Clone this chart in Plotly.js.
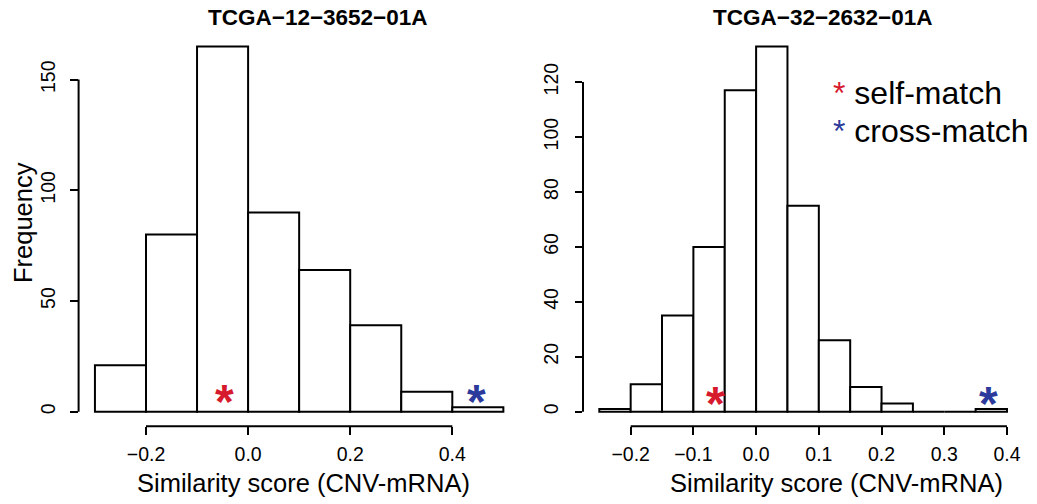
<!DOCTYPE html>
<html>
<head>
<meta charset="utf-8">
<script src="https://cdn.plot.ly/plotly-3.0.1.min.js"></script>
<style>
  html, body { margin: 0; padding: 0; background: #ffffff; }
  #chart { width: 1037px; height: 504px; }
</style>
</head>
<body>
<div id="chart"></div>
<script>
// ---------- data ----------
const leftTitle = "TCGA\u221212\u22123652\u221201A";
const rightTitle = "TCGA\u221232\u22122632\u221201A";
const xTitle = "Similarity score (CNV-mRNA)";
const yTitle = "Frequency";

const leftEdges  = [-0.3, -0.2, -0.1, 0.0, 0.1, 0.2, 0.3, 0.4, 0.5];
const leftCounts = [21, 80, 165, 90, 64, 39, 9, 2];

const rightEdges  = [-0.25, -0.2, -0.15, -0.1, -0.05, 0.0, 0.05, 0.1, 0.15, 0.2, 0.25, 0.3, 0.35, 0.4];
const rightCounts = [1, 10, 35, 60, 117, 133, 75, 26, 9, 3, 0, 0, 1];

const leftXTicks  = [-0.2, 0.0, 0.2, 0.4];
const leftYTicks  = [0, 50, 100, 150];
const rightXTicks = [-0.2, -0.1, 0.0, 0.1, 0.2, 0.3, 0.4];
const rightYTicks = [0, 20, 40, 60, 80, 100, 120];

const leftSelf   = {x: -0.046, y: 9};
const leftCross  = {x: 0.447,  y: 9};
const rightSelf  = {x: -0.064, y: 6.5};
const rightCross = {x: 0.370,  y: 6.5};

const legendLabels = ["self-match", "cross-match"];

// ---------- styles ----------
const FONT = "Liberation Sans, Arial, Helvetica, sans-serif";
const RED = "#D7192E";
const BLUE = "#2B3A9B";

function centers(edges) { return edges.slice(0, -1).map((e, i) => (e + edges[i + 1]) / 2); }
function widths(edges) { return edges.slice(0, -1).map((e, i) => edges[i + 1] - e); }

function histTrace(edges, counts, xa, ya) {
  return {
    type: "bar",
    x: centers(edges), y: counts, width: widths(edges),
    xaxis: xa, yaxis: ya,
    marker: {color: "#ffffff", line: {color: "#000000", width: 2}},
    hoverinfo: "skip", showlegend: false
  };
}

const data = [
  histTrace(leftEdges, leftCounts, "x", "y"),
  histTrace(rightEdges, rightCounts, "x2", "y2")
];

const yDom = [77.7 / 504, 472.2 / 504];
function axisCommon() {
  return {
    showgrid: false, zeroline: false, showline: false,
    ticks: "outside", ticklen: 7.5, tickwidth: 2, tickcolor: "#000",
    tickfont: {family: FONT, size: 19.5, color: "#000"},
    fixedrange: true
  };
}

const layout = {
  width: 1037, height: 504,
  margin: {l: 0, r: 0, t: 0, b: 0},
  paper_bgcolor: "#ffffff", plot_bgcolor: "#ffffff",
  bargap: 0, showlegend: false,
  xaxis: Object.assign(axisCommon(), {
    domain: [78.6 / 1037, 519.7 / 1037], range: [-0.332, 0.532],
    tickvals: leftXTicks, tickformat: ".1f", anchor: "y", ticklabelstandoff: 3
  }),
  yaxis: Object.assign(axisCommon(), {
    domain: yDom, range: [-6.6, 171.6], tickvals: leftYTicks, tickangle: -90, anchor: "x",
    ticklabelstandoff: 7
  }),
  xaxis2: Object.assign(axisCommon(), {
    domain: [583.0 / 1037, 1023.3 / 1037], range: [-0.276, 0.426],
    tickvals: rightXTicks, tickformat: ".1f", anchor: "y2", ticklabelstandoff: 3
  }),
  yaxis2: Object.assign(axisCommon(), {
    domain: yDom, range: [-5.32, 138.32], tickvals: rightYTicks, tickangle: -90, anchor: "x2",
    ticklabelstandoff: 9
  }),
  shapes: [],
  annotations: []
};

// R-style axis lines spanning only the tick range
function axisLines(xa, ya, xt, yt, xDomLeft) {
  layout.shapes.push({type: "line", xref: xa, yref: "paper",
    x0: xt[0], x1: xt[xt.length - 1], y0: yDom[0], y1: yDom[0],
    line: {color: "#000", width: 2}});
  layout.shapes.push({type: "line", xref: "paper", yref: ya,
    x0: xDomLeft, x1: xDomLeft, y0: yt[0], y1: yt[yt.length - 1],
    line: {color: "#000", width: 2}});
}
axisLines("x", "y", leftXTicks, leftYTicks, layout.xaxis.domain[0]);
axisLines("x2", "y2", rightXTicks, rightYTicks, layout.xaxis2.domain[0]);

// titles
function paperText(text, px, py, size, bold, angle) {
  layout.annotations.push({
    xref: "paper", yref: "paper", x: px / 1037, y: 1 - py / 504,
    xanchor: "center", yanchor: "middle", showarrow: false,
    text: bold ? "<b>" + text + "</b>" : text, textangle: angle || 0,
    font: {family: FONT, size: size, color: "#000"}
  });
}
paperText(leftTitle, 318, 17.7, 22.5, true);
paperText(rightTitle, 822.5, 17.7, 22.5, true);
paperText(xTitle, 303, 483, 25.5, false);
paperText(xTitle, 836, 483, 25.5, false);
paperText(yTitle, 23, 223, 25.5, false, -90);

// asterisk markers placed via the data axes
function star(pt, xa, ya, color) {
  layout.annotations.push({
    xref: xa, yref: ya, x: pt.x, y: pt.y, xanchor: "center", yanchor: "middle",
    showarrow: false, text: "<b>*</b>", yshift: -10,
    font: {family: FONT, size: 48, color: color}
  });
}
star(leftSelf, "x", "y", RED);
star(leftCross, "x", "y", BLUE);
star(rightSelf, "x2", "y2", RED);
star(rightCross, "x2", "y2", BLUE);

// legend
const legendColors = [RED, BLUE];
const legendY = [93, 131];
legendLabels.forEach((lab, i) => {
  layout.annotations.push({
    xref: "paper", yref: "paper", x: 831 / 1037, y: 1 - legendY[i] / 504,
    xanchor: "left", yanchor: "middle", showarrow: false,
    text: '<span style="color:' + legendColors[i] + '">*</span> ' + lab,
    font: {family: FONT, size: 32, color: "#000"}
  });
});

Plotly.newPlot("chart", data, layout, {displayModeBar: false, staticPlot: true});
</script>
</body>
</html>
